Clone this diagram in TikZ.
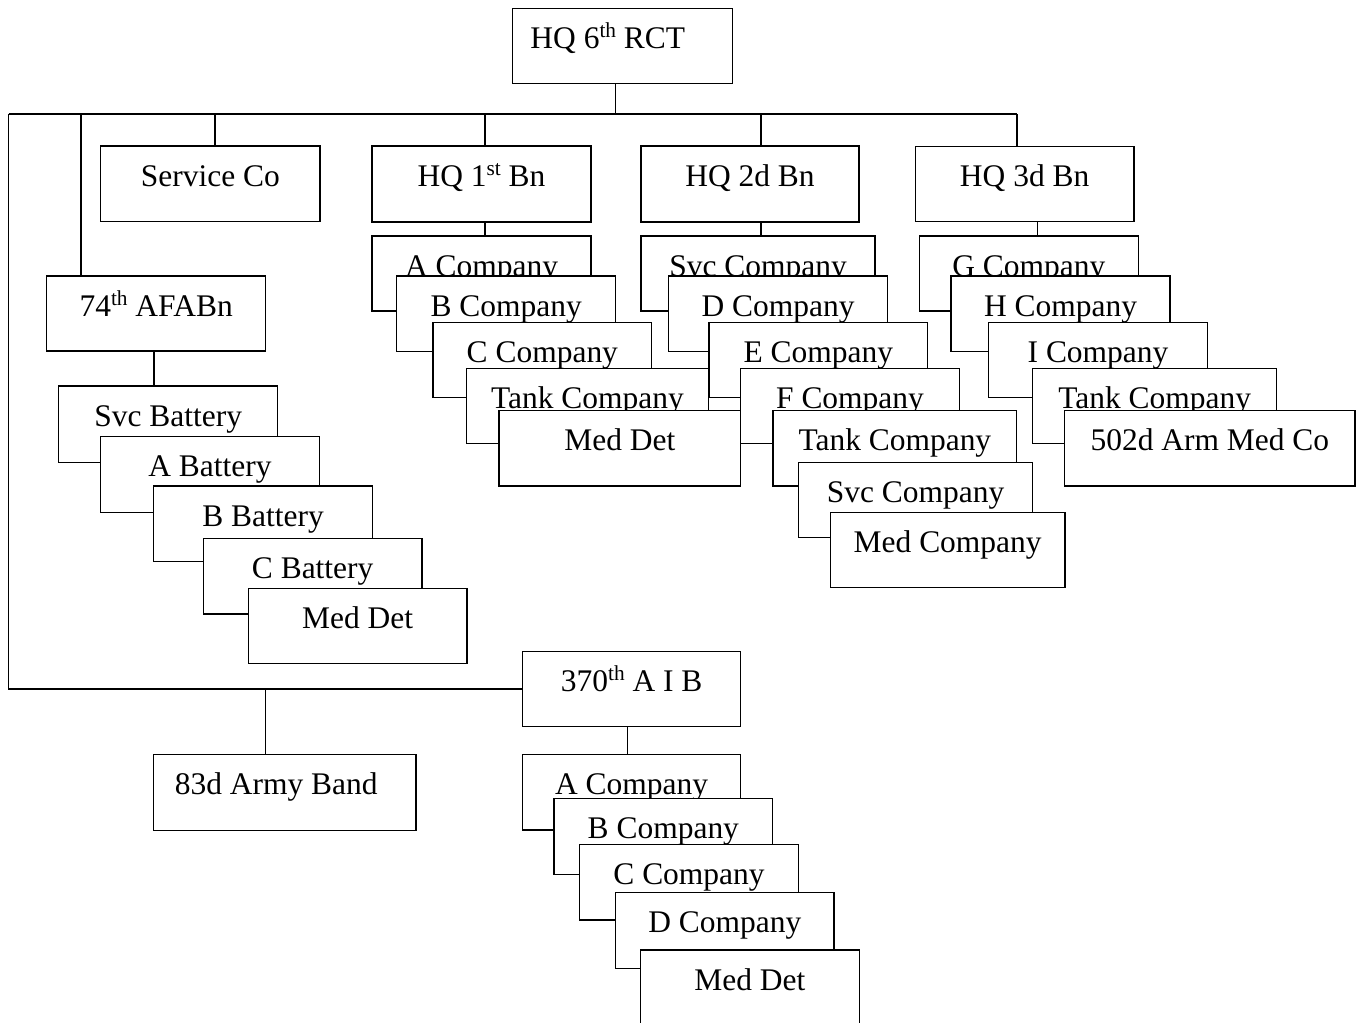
\documentclass[tikz,border=0pt]{standalone}
\usepackage{fontspec}
\setmainfont{Liberation Serif}
\newcommand{\sups}[1]{\raisebox{8pt}{\fontsize{16}{16}\selectfont #1}}
\newcommand{\ubox}[6]{%
  \pgfmathsetmacro\ubw{(#4-#2)*0.75}%
  \pgfmathsetmacro\ubd{(#5-#3-40)*0.75}%
  \node[ubx, minimum width=\ubw pt, text depth=\ubd pt, anchor=north west] (#1) at (#2,#3) {#6};}
\begin{document}
\begin{tikzpicture}[x=0.75pt,y=-0.75pt,
  font=\fontsize{23.6}{28}\selectfont,
  ubx/.style={draw=black, fill=white, line width=1.1pt, inner xsep=0pt, inner ysep=0pt,
    outer sep=0pt, text height=30pt},
  conn/.style={draw=black, line width=1.1pt}]
\useasboundingbox (0,0) rectangle (1362,1022);
% top level
\ubox{hq6}{512.7}{8.3}{732.3}{83.3}{HQ 6\sups{th} RCT\kern22pt\mbox{}}
\ubox{svc}{100.7}{146}{320}{221.7}{Service Co}
\ubox{hq1}{372}{146}{591}{222}{HQ 1\sups{st} Bn}
\ubox{hq2}{641}{146}{859}{222}{HQ 2d Bn}
\ubox{hq3}{915.3}{146.5}{1134}{221.5}{HQ 3d Bn}
\ubox{afa}{46.7}{276}{265.7}{351}{74\sups{th} AFABn}
% 1st Bn
\ubox{a1}{372}{236}{591}{311}{A Company}
\ubox{b1}{396.7}{276}{615.7}{351.7}{B Company}
\ubox{c1}{433}{322.3}{651.7}{397.7}{C Company}
\ubox{t1}{466.7}{368.3}{708.3}{443.7}{Tank Company}
\ubox{m1}{499}{410.3}{740.7}{486}{Med Det}
% 2d Bn
\ubox{s2}{641}{236}{875}{311}{Svc Company}
\ubox{d2}{668.7}{276}{887.3}{351.7}{D Company}
\ubox{e2}{709}{322.3}{927.7}{397.7}{E Company}
\ubox{f2}{740.7}{368.3}{959.3}{443.7}{F Company}
\ubox{t2}{773}{410.3}{1016.7}{486}{Tank Company}
\ubox{v2}{798.3}{462.3}{1032.7}{537.7}{Svc Company}
\ubox{m2}{830.3}{512.7}{1065}{587.7}{Med Company}
% 3d Bn
\ubox{g3}{919.3}{236}{1138.3}{311}{G Company}
\ubox{h3}{951}{276}{1170}{351.7}{H Company}
\ubox{i3}{988.7}{322.3}{1207.3}{397.7}{I Company}
\ubox{t3}{1032.7}{368.3}{1276.7}{443.7}{Tank Company}
\ubox{m3}{1064.7}{410.3}{1355}{486}{502d Arm Med Co}
% 74th AFABn
\ubox{sb}{58.7}{386}{277.7}{462.3}{Svc Battery}
\ubox{ab}{100.7}{436.7}{319.3}{512.3}{A Battery}
\ubox{bb}{153.7}{486}{372.3}{561.7}{B Battery}
\ubox{cb}{203.3}{538.3}{422}{614}{C Battery}
\ubox{mb}{248.3}{588.3}{467}{663.3}{Med Det}
% 370th AIB and band
\ubox{aib}{522.7}{651.5}{740.7}{726.5}{370\sups{th} A I B}
\ubox{band}{153.7}{754.3}{416}{830.7}{83d Army Band\kern13pt\mbox{}}
\ubox{a4}{522.3}{754.3}{740.7}{830}{A Company}
\ubox{b4}{554}{798.7}{772.7}{874.3}{B Company}
\ubox{c4}{579.7}{844.7}{798.3}{920}{C Company}
\ubox{d4}{615.7}{892.7}{834}{968.3}{D Company}
\ubox{m4}{640.3}{950}{859.3}{1026}{Med Det}
% connectors
\coordinate (busL) at (8.7,114);
\coordinate (busR) at (1017,114);
\coordinate (j6) at (615.7,114);
\coordinate (j74) at (81,114);
\coordinate (jsc) at (215,114);
\coordinate (j1) at (485,114);
\coordinate (j2) at (761,114);
\coordinate (xb) at (265.7,0);
\coordinate (x3) at (1037.7,0);
\coordinate (x74) at (154,0);
\coordinate (x370) at (627.7,0);
\draw[conn] (busL) -- (busR);
\draw[conn] (j6) -- (j6 |- hq6.south);
\draw[conn] (j74) -- (j74 |- afa.north);
\draw[conn] (jsc) -- (jsc |- svc.north);
\draw[conn] (j1) -- (j1 |- hq1.north);
\draw[conn] (j2) -- (j2 |- hq2.north);
\draw[conn] (busR) -- (busR |- hq3.north);
\draw[conn] (busL) |- (aib.west);
\draw[conn] (aib.west -| xb) -- (band.north -| xb);
\draw[conn] (j1 |- hq1.south) -- (j1 |- a1.north);
\draw[conn] (j2 |- hq2.south) -- (j2 |- s2.north);
\draw[conn] (hq3.south -| x3) -- (g3.north -| x3);
\draw[conn] (afa.south -| x74) -- (sb.north -| x74);
\draw[conn] (aib.south -| x370) -- (a4.north -| x370);
\end{tikzpicture}
\end{document}
